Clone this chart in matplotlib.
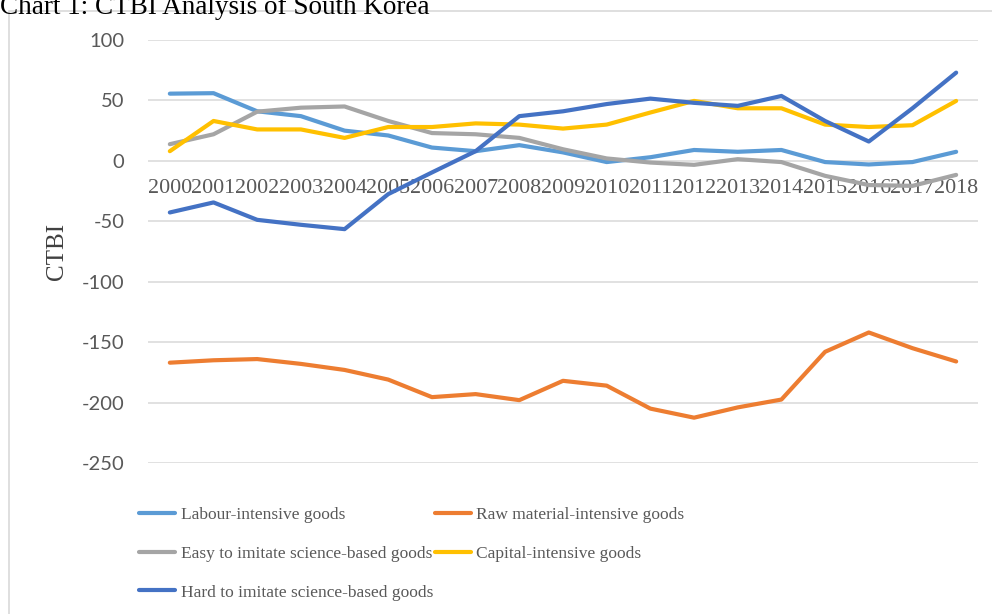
import matplotlib
matplotlib.use('Agg')
import matplotlib.pyplot as plt
from matplotlib.patches import Rectangle

# Data
years = list(range(2000, 2019))
labour = [55.6, 56, 41, 37, 25, 21, 11, 8, 13, 7, -1, 3, 9, 7.5, 9, -1, -3, -1, 7.5]
raw_material = [-167, -165, -164, -168, -173, -181, -195.5, -193, -198, -182, -186,
                -205, -212.5, -204, -197.5, -158, -142, -155, -166]
easy_imitate = [13.8, 22, 40.7, 44, 45, 33, 23, 22, 19, 9.6, 2, -1.4, -3.3, 1.4, -1,
                -12.4, -20, -20.7, -11.6]
capital = [8, 33, 26, 26, 19, 28, 28, 31, 30, 26.7, 30, 40, 49.6, 43.5, 43.5, 30, 28,
           29.5, 49.6]
hard_imitate = [-42.7, -34.4, -48.8, -52.9, -56.5, -27.5, -9.6, 8, 37, 41, 47, 51.5,
                48, 45.5, 53.7, 33, 16, 43.5, 73]

labels = ['Labour-intensive goods', 'Raw material-intensive goods',
          'Easy to imitate science-based goods', 'Capital-intensive goods',
          'Hard to imitate science-based goods']
colors = ['#5B9BD5', '#ED7D31', '#A5A5A5', '#FFC000', '#4472C4']
yticks = [100, 50, 0, -50, -100, -150, -200, -250]

serif = 'Liberation Serif'
sans = 'Lato'
plt.rcParams['axes.unicode_minus'] = False

fig = plt.figure(figsize=(9.92, 6.14), dpi=100)
ax = fig.add_axes([148 / 992, 1 - 463 / 614, 830 / 992, 423 / 614])

series = [labour, raw_material, easy_imitate, capital, hard_imitate]
lines = []
for vals, lab, col in zip(series, labels, colors):
    ln, = ax.plot(years, vals, color=col, lw=3, label=lab,
                  solid_capstyle='round', solid_joinstyle='round')
    lines.append(ln)

ax.set_xlim(1999.5, 2018.5)
ax.set_ylim(-250, 100)
ax.set_yticks(yticks)
ax.set_xticks(years)
ax.set_axisbelow(True)
ax.grid(axis='y', color='#D9D9D9', lw=1.1)
for s in ['top', 'right', 'left']:
    ax.spines[s].set_visible(False)
ax.spines['bottom'].set_position(('data', 0))
ax.spines['bottom'].set_color('none')
ax.tick_params(axis='y', length=0, pad=17, labelsize=14.5, labelcolor='#595959')
ax.tick_params(axis='x', length=0, pad=13, labelsize=15.8, labelcolor='#595959')
for t in ax.get_yticklabels():
    t.set_family(sans)
for t in ax.get_xticklabels():
    t.set_family(serif)

fig.text(57 / 992, 1 - 251 / 614, 'CTBI', rotation=90, ha='center', va='center',
         fontsize=18, family=serif, color='#404040')
fig.text(0, 1 - 13.5 / 614, 'Chart 1: CTBI Analysis of South Korea', ha='left',
         va='baseline', fontsize=19.5, family=serif, color='black')

# legend, row-major order like the original
order = [0, 2, 4, 1, 3]
fig.legend([lines[i] for i in order], [labels[i] for i in order], ncol=2,
           loc='upper left', bbox_to_anchor=(132 / 992, 1 - 500 / 614),
           frameon=False, prop={'family': serif, 'size': 12.5},
           labelcolor='#595959', handlelength=2.1, handletextpad=0.3,
           columnspacing=0.1, labelspacing=1.3, borderaxespad=0)

fig.patches.append(Rectangle((9 / 992, -0.1), 2, 1.1 - 11 / 614, fill=False,
                             edgecolor='#D9D9D9', lw=1.2, transform=fig.transFigure))

fig.savefig('out.png', dpi=100)
